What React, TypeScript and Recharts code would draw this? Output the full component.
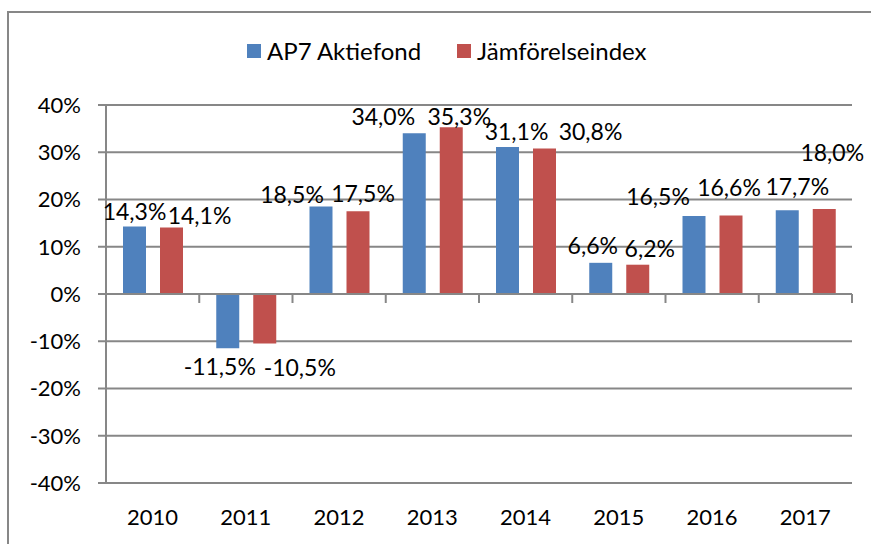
import { BarChart, Bar, XAxis, YAxis, CartesianGrid, ReferenceLine, LabelList } from 'recharts';

const years = ['2010', '2011', '2012', '2013', '2014', '2015', '2016', '2017'];
const ap7Returns = [14.3, -11.5, 18.5, 34.0, 31.1, 6.6, 16.5, 17.7];
const indexReturns = [14.1, -10.5, 17.5, 35.3, 30.8, 6.2, 16.6, 18.0];
const yTicks = [-40, -30, -20, -10, 0, 10, 20, 30, 40];
const seriesNames = ['AP7 Aktiefond', 'Jämförelseindex'];

// label nudges (px) so the labels sit like in the original sheet
const ap7Shift = { dx: [0, -8, -29, -31, 9, -8, -36, 10], dy: [-15, 18, -13, -17, -16, -18, -20, -24] };
const indexShift = { dx: [28, 35, 5, 8, 46, 12, -2, 8], dy: [-12, 23, -18, -11, -17, -17, -29, -57] };

const BLUE = '#4F81BD';
const RED = '#C0504D';
const GRID = '#878787';
const FONT = 'Lato, "Noto Sans", sans-serif';

const data = years.map((year, i) => ({ year, ap7: ap7Returns[i], index: indexReturns[i] }));

const fmt = (v: number) => `${v.toFixed(1).replace('.', ',')}%`;

function makeLabel(shift: { dx: number[]; dy: number[] }) {
  return (props: any) => {
    const { x, y, width, height, value, index } = props;
    const top = Math.min(y, y + height);
    const bottom = Math.max(y, y + height);
    const cx = x + width / 2 + shift.dx[index];
    const cy = (value >= 0 ? top : bottom) + shift.dy[index];
    return (
      <text x={cx} y={cy} textAnchor="middle" dominantBaseline="central" fill="#000" fontSize={23} fontFamily={FONT}>
        {fmt(value)}
      </text>
    );
  };
}

export default function App() {
  return (
    <div style={{ position: 'fixed', left: 0, top: 0, width: 871, height: 544, overflow: 'hidden', background: '#fff', fontFamily: FONT }}>
      <div style={{ position: 'absolute', left: 7, top: 11, width: 920, height: 600, border: `2px solid ${GRID}` }} />
      <div style={{ position: 'absolute', left: 247, top: 36, display: 'flex', alignItems: 'center', fontSize: 24, color: '#000' }}>
        <span style={{ width: 14, height: 14, background: BLUE, marginRight: 6 }} />
        <span style={{ marginRight: 36 }}>{seriesNames[0]}</span>
        <span style={{ width: 14, height: 14, background: RED, marginRight: 6 }} />
        <span>{seriesNames[1]}</span>
      </div>
      <div style={{ position: 'absolute', left: 0, top: 0 }}>
        <BarChart
          width={871}
          height={544}
          data={data}
          margin={{ top: 105, right: 19, bottom: 0, left: 0 }}
          barCategoryGap={17}
          barGap={14}
        >
          <CartesianGrid vertical={false} stroke={GRID} strokeWidth={2} />
          <XAxis
            dataKey="year"
            height={61}
            axisLine={false}
            tickLine={false}
            tickSize={0}
            tickMargin={26}
            tick={{ fill: '#000', fontSize: 22, fontFamily: FONT }}
          />
          <YAxis
            width={106}
            domain={[-40, 40]}
            ticks={yTicks}
            tickFormatter={(v: number) => `${v}%`}
            axisLine={{ stroke: GRID, strokeWidth: 2 }}
            tickLine={{ stroke: GRID, strokeWidth: 2 }}
            tickSize={8}
            tickMargin={17}
            tick={{ fill: '#000', fontSize: 22, fontFamily: FONT }}
          />
          {years.map((yr) => (
            <ReferenceLine key={`t-${yr}`} segment={[{ x: yr, y: 0 }, { x: yr, y: -1.9 }]} position="start" stroke={GRID} strokeWidth={2} ifOverflow="visible" />
          ))}
          <ReferenceLine segment={[{ x: years[years.length - 1], y: 0 }, { x: years[years.length - 1], y: -1.9 }]} position="end" stroke={GRID} strokeWidth={2} ifOverflow="visible" />
          <ReferenceLine y={0} stroke={GRID} strokeWidth={2} />
          <Bar dataKey="ap7" name={seriesNames[0]} fill={BLUE} isAnimationActive={false}>
            <LabelList dataKey="ap7" content={makeLabel(ap7Shift)} />
          </Bar>
          <Bar dataKey="index" name={seriesNames[1]} fill={RED} isAnimationActive={false}>
            <LabelList dataKey="index" content={makeLabel(indexShift)} />
          </Bar>
        </BarChart>
      </div>
    </div>
  );
}
